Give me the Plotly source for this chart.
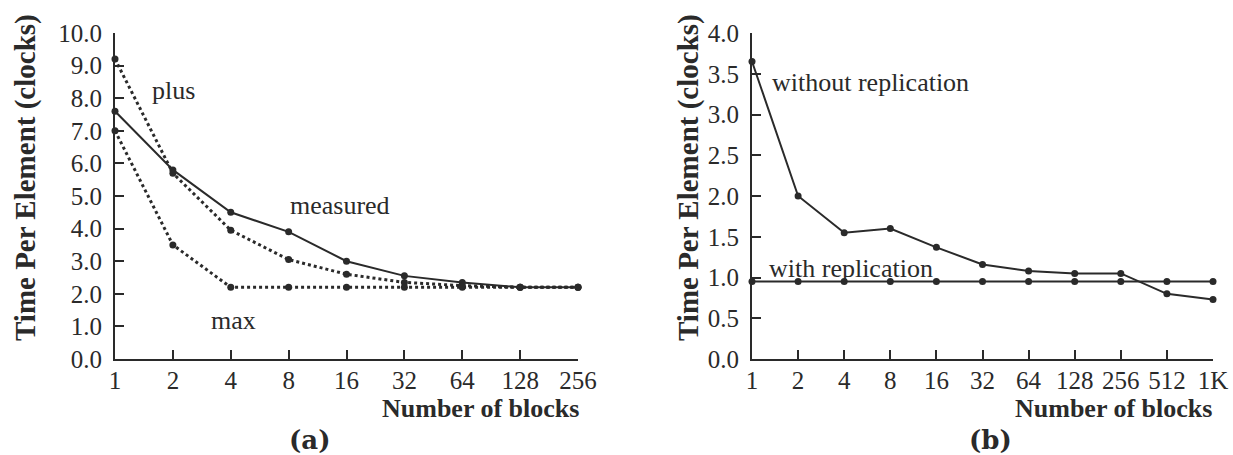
import plotly.graph_objects as go

blocks_a = ["1", "2", "4", "8", "16", "32", "64", "128", "256"]
measured = [7.6, 5.8, 4.5, 3.9, 3.0, 2.55, 2.35, 2.2, 2.2]
plus = [9.2, 5.7, 3.95, 3.05, 2.6, 2.35, 2.25, 2.2, 2.2]
maxv = [7.0, 3.5, 2.2, 2.2, 2.2, 2.2, 2.2, 2.2, 2.2]
yticks_a = [0, 1, 2, 3, 4, 5, 6, 7, 8, 9, 10]

blocks_b = ["1", "2", "4", "8", "16", "32", "64", "128", "256", "512", "1K"]
without_rep = [3.65, 2.0, 1.55, 1.6, 1.37, 1.16, 1.08, 1.05, 1.05, 0.8, 0.73]
with_rep = [0.95, 0.95, 0.95, 0.95, 0.95, 0.95, 0.95, 0.95, 0.95, 0.95, 0.95]
yticks_b = [0, 0.5, 1.0, 1.5, 2.0, 2.5, 3.0, 3.5, 4.0]

W, H = 1233, 455
FONT = "Liberation Serif"
INK = "#2a2a2a"

def px(x):
    return x / W

def py(y):
    return (H - y) / H

fig = go.Figure()

line_solid = dict(color=INK, width=2)
line_dot = dict(color=INK, width=3, dash="dot")
mk = dict(color=INK, size=7)

def sc(x, y, line, xa, ya):
    return go.Scatter(x=x, y=y, mode="lines+markers", line=line, marker=mk,
                      xaxis=xa, yaxis=ya, cliponaxis=False)

fig.add_trace(sc(blocks_a, measured, line_solid, "x", "y"))
fig.add_trace(sc(blocks_a, plus, line_dot, "x", "y"))
fig.add_trace(sc(blocks_a, maxv, line_dot, "x", "y"))
fig.add_trace(sc(blocks_b, without_rep, line_solid, "x2", "y2"))
fig.add_trace(sc(blocks_b, with_rep, line_solid, "x2", "y2"))

axis_common = dict(showgrid=False, zeroline=False, showline=True, linecolor=INK, linewidth=2,
                   ticks="inside", tickcolor=INK, tickwidth=2, ticklen=9, automargin=False,
                   tickfont=dict(family=FONT, size=25, color=INK))

ydom = [py(359), py(33)]
fig.update_layout(
    width=W, height=H, margin=dict(l=0, r=0, t=0, b=0, pad=0, autoexpand=False),
    paper_bgcolor="white", plot_bgcolor="white", showlegend=False,
    xaxis=dict(axis_common, type="category", range=[0, len(blocks_a) - 1],
               domain=[px(115), px(578)], anchor="y", ticklabelstandoff=-2),
    yaxis=dict(axis_common, range=[0, 10], domain=ydom, anchor="x",
               tickvals=yticks_a, ticktext=[f"{v:.1f}" for v in yticks_a], ticklabelstandoff=6),
    xaxis2=dict(axis_common, type="category", range=[0, len(blocks_b) - 1],
                domain=[px(752), px(1213)], anchor="y2", ticklabelstandoff=-2),
    yaxis2=dict(axis_common, range=[0, 4], domain=ydom, anchor="x2",
                tickvals=yticks_b, ticktext=[f"{v:.1f}" for v in yticks_b], ticklabelstandoff=6),
)

tfont = dict(family=FONT, size=26, color=INK)
bfont = dict(family=FONT, size=26, color=INK, weight="bold")
yfont = dict(family=FONT, size=29, color=INK, weight="bold")
pfont = dict(family="DejaVu Serif", size=26, color=INK, weight="bold")

ann = []
def add(x, y, text, font, xanchor="center", yanchor="middle", angle=0):
    ann.append(dict(x=px(x), y=py(y), xref="paper", yref="paper", text=text, showarrow=False,
                    font=font, xanchor=xanchor, yanchor=yanchor, textangle=angle))

add(173, 91, "plus", tfont)
add(340, 206, "measured", tfont)
add(233, 320, "max", tfont)
add(870, 82, "without replication", tfont)
add(851, 268, "with replication", tfont)
add(581, 408, "Number of blocks", bfont, xanchor="right")
add(1214, 408, "Number of blocks", bfont, xanchor="right")
add(25, 178, "Time Per Element (clocks)", yfont, angle=-90)
add(688, 178, "Time Per Element (clocks)", yfont, angle=-90)
add(309, 440, "(a)", pfont)
add(990, 440, "(b)", pfont)
fig.update_layout(annotations=ann)

fig.write_html("out.html")
